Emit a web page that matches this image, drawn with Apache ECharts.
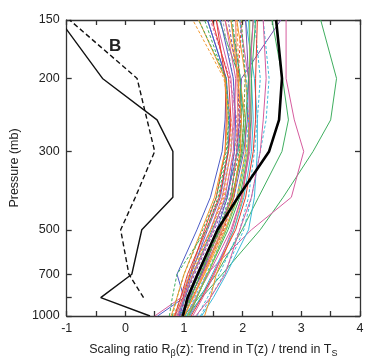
<!DOCTYPE html>
<html>
<head>
<meta charset="utf-8">
<script src="https://cdn.jsdelivr.net/npm/echarts@6/dist/echarts.min.js"></script>
<style>html,body{margin:0;padding:0;background:#fff}#c{width:380px;height:363px}</style>
</head>
<body>
<div id="c"></div>
<script>
// ---- data ----
const levels = [1000, 850, 700, 500, 400, 300, 250, 200, 150];
const yTickLabels = [1000, 700, 500, 300, 200, 150];
const yTickMarks = [1000, 850, 700, 500, 300, 200, 150];
const xTickLabels = [-1, 0, 1, 2, 3, 4];

const obsSolidLevels = [1000, 850, 700, 500, 400, 300, 250, 200, 150];
const obsSolid = [0.42, -0.42, 0.11, 0.28, 0.81, 0.81, 0.54, -0.39, -1.12];
const obsDashedLevels = [850, 700, 500, 400, 300, 250, 200, 150];
const obsDashed = [0.31, 0.06, -0.08, 0.17, 0.50, 0.37, 0.20, -0.95];

const modelMean = [0.98, 1.06, 1.23, 1.57, 1.92, 2.45, 2.62, 2.67, 2.57];

const modelRuns = [
  [1.05, 1.30, 1.65, 2.30, 2.69, 3.20, 3.50, 3.60, 3.33],
  [1.10, 1.22, 1.38, 2.15, 2.83, 3.04, 2.88, 2.74, 2.74],
  [1.00, 1.25, 1.55, 1.99, 2.27, 2.67, 2.78, 2.68, 2.50],
  [0.95, 1.10, 1.30, 1.60, 1.80, 1.90, 1.95, 1.98, 2.65],
  [0.55, 1.00, 0.88, 1.22, 1.45, 1.65, 1.70, 1.72, 1.40],
  [0.50, 0.95, 1.10, 1.45, 1.65, 1.80, 1.84, 1.80, 1.55],
  [1.28, 1.45, 1.68, 2.02, 2.15, 2.30, 2.40, 2.45, 2.35],
  [1.22, 1.40, 1.60, 1.95, 2.10, 2.20, 2.25, 2.30, 2.20],
  [1.30, 1.50, 1.72, 2.10, 2.20, 2.25, 2.25, 2.20, 2.05],
  [1.35, 1.45, 1.55, 1.85, 2.00, 2.10, 2.10, 2.05, 1.90],
  [1.20, 1.45, 1.70, 1.95, 2.15, 2.30, 2.35, 2.40, 2.35],
  [0.90, 1.00, 1.12, 1.40, 1.62, 1.75, 1.78, 1.72, 1.40],
  [0.95, 1.08, 1.25, 1.62, 1.82, 1.98, 2.02, 1.95, 1.60],
  [1.00, 1.15, 1.35, 1.70, 1.90, 2.05, 2.05, 1.95, 1.70],
  [0.85, 0.98, 1.10, 1.35, 1.55, 1.70, 1.72, 1.70, 1.55],
  [1.05, 1.20, 1.42, 1.80, 1.98, 2.12, 2.15, 2.10, 1.95],
  [0.92, 1.02, 1.15, 1.48, 1.72, 1.92, 1.98, 1.96, 1.80],
  [0.80, 0.88, 1.00, 1.32, 1.55, 1.72, 1.76, 1.70, 1.35],
  [0.98, 1.10, 1.30, 1.66, 1.85, 2.02, 2.08, 2.10, 2.05],
  [1.10, 1.28, 1.48, 1.85, 2.02, 2.15, 2.18, 2.15, 2.10],
  [0.88, 1.00, 1.14, 1.46, 1.68, 1.86, 1.92, 1.94, 1.90],
  [0.95, 1.14, 1.32, 1.68, 1.85, 1.95, 1.96, 1.92, 1.98],
  [1.02, 1.12, 1.28, 1.60, 1.82, 2.00, 2.05, 2.10, 2.18],
  [0.82, 0.95, 1.10, 1.46, 1.66, 1.80, 1.80, 1.68, 1.15],
  [0.90, 1.06, 1.26, 1.62, 1.80, 1.90, 1.90, 1.78, 1.45],
  [1.08, 1.22, 1.40, 1.75, 1.95, 2.10, 2.14, 2.15, 2.22],
  [0.86, 0.95, 1.08, 1.40, 1.62, 1.80, 1.86, 1.84, 1.66],
  [1.00, 1.15, 1.32, 1.64, 1.80, 1.90, 1.92, 1.90, 1.88],
  [0.93, 1.08, 1.25, 1.56, 1.74, 1.86, 1.88, 1.84, 1.62],
  [1.12, 1.30, 1.50, 1.88, 2.05, 2.18, 2.22, 2.22, 2.25],
  [0.78, 0.88, 1.00, 1.30, 1.52, 1.70, 1.74, 1.70, 1.25],
  [0.96, 1.12, 1.28, 1.58, 1.78, 1.94, 1.98, 1.96, 1.82],
  [1.04, 1.18, 1.38, 1.72, 1.90, 2.06, 2.10, 2.06, 1.95],
  [0.88, 1.00, 1.16, 1.50, 1.70, 1.84, 1.86, 1.88, 1.70],
  [1.06, 1.22, 1.40, 1.72, 1.92, 2.08, 2.12, 2.12, 2.12],
  [0.84, 0.94, 1.06, 1.38, 1.60, 1.76, 1.80, 1.76, 1.48],
  [0.97, 1.10, 1.28, 1.62, 1.82, 1.98, 2.02, 2.04, 1.98],
  [1.15, 1.32, 1.52, 1.82, 1.98, 2.10, 2.12, 2.12, 2.18],
  [0.92, 1.02, 1.18, 1.52, 1.74, 1.90, 1.94, 1.92, 1.75],
  [0.75, 0.80, 0.88, 1.38, 1.58, 1.74, 1.76, 1.72, 1.25],
  [1.00, 1.16, 1.34, 1.66, 1.84, 1.96, 1.98, 1.92, 1.80]
];

// ---- styles (kept separate from data) ----
const G = '#3fae5f', O = '#f3962c', C = '#3bbad9', P = '#d65c9e', V = '#7a4fae',
      R = '#e33b30', B = '#4d5cc6', L = '#8cc63f', T = '#2aa39a', S = '#ef7f6f', Y = '#aaaaaa';
const modelColors = [G, P, G, V, B, P, C, C, C, O, P,
  B, G, O, R, P, T, G, V, C, O, R, G, O, P, G, Y, S, B, R, O, G, C, P, L, R, '#7a9a3a', P, V, G, O];
const modelDashed = [0,0,0,0,0,0,1,1,0,0,0,
  0,0,0,0,0,0,1,0,0,1,1,0,1,1,0,1,0,0,0,0,1,1,0,0,0,1,0,1,1,0];

// ---- pressure axis transform (figure uses p^-0.35 spacing) ----
const ty = p => Math.pow(p, -0.35);
const fromTy = u => Math.round(Math.pow(u, -1 / 0.35));

const toPts = (lv, vals) => lv.map((p, i) => [vals[i], ty(p)]);

const series = [];
modelRuns.forEach((run, i) => {
  series.push({
    type: 'line', data: toPts(levels, run), showSymbol: false, silent: true,
    lineStyle: { color: modelColors[i % modelColors.length], width: 1,
      type: modelDashed[i] ? [3, 2] : 'solid' }, z: 2
  });
});
series.push({ type: 'line', data: toPts(levels, modelMean), showSymbol: false, silent: true,
  lineStyle: { color: '#000', width: 2.6 }, z: 5 });
series.push({ type: 'line', data: toPts(obsSolidLevels, obsSolid), showSymbol: false, silent: true,
  lineStyle: { color: '#111', width: 1.4 }, z: 5 });
series.push({ type: 'line', data: toPts(obsDashedLevels, obsDashed), showSymbol: false, silent: true,
  lineStyle: { color: '#111', width: 1.4, type: [5, 3] }, z: 5 });

const FONT = 'Liberation Sans';
const axisLine = { show: true, onZero: false, lineStyle: { color: '#333', width: 1.3 } };
const tick = { show: true, inside: true, length: 5, lineStyle: { color: '#333', width: 1.3 } };

const chart = echarts.init(document.getElementById('c'), null, { renderer: 'canvas' });
chart.setOption({
  animation: false,
  backgroundColor: '#fff',
  grid: { left: 62, right: 20, top: 20, bottom: 46, containLabel: false },
  xAxis: [
    { type: 'value', min: -1, max: 4, interval: 0.5, position: 'bottom',
      axisLine, axisTick: tick, splitLine: { show: false },
      axisLabel: { margin: 6, color: '#222', fontFamily: FONT, fontSize: 12.5,
        customValues: xTickLabels, formatter: v => String(v) },
      name: 'Scaling ratio R{sub|β}(z): Trend in T(z) / trend in T{sub|S}',
      nameLocation: 'middle', nameGap: 25,
      nameTextStyle: { color: '#222', fontFamily: FONT, fontSize: 12.5,
        rich: { sub: { fontSize: 9, fontFamily: FONT, color: '#222', padding: [8, 0, 0, 0] } } } },
    { type: 'value', min: -1, max: 4, interval: 0.5, position: 'top',
      axisLine, axisTick: tick, axisLabel: { show: false }, splitLine: { show: false } }
  ],
  yAxis: [
    { type: 'value', min: ty(1000), max: ty(150), position: 'left',
      axisLine, splitLine: { show: false },
      axisTick: Object.assign({}, tick, { customValues: yTickMarks.map(ty) }),
      axisLabel: { margin: 7, color: '#222', fontFamily: FONT, fontSize: 12.5,
        customValues: yTickLabels.map(ty), formatter: v => String(fromTy(v)) },
      name: 'Pressure (mb)', nameLocation: 'middle', nameGap: 37,
      nameTextStyle: { color: '#222', fontFamily: FONT, fontSize: 12.5 } },
    { type: 'value', min: ty(1000), max: ty(150), position: 'right',
      axisLine, splitLine: { show: false },
      axisTick: Object.assign({}, tick, { customValues: yTickMarks.map(ty) }),
      axisLabel: { show: false } }
  ],
  graphic: [
    { type: 'text', left: 109, top: 38, z: 10,
      style: { text: 'B', fontFamily: FONT, fontSize: 17, fontWeight: 'bold', fill: '#222' } }
  ],
  series
});
</script>
</body>
</html>
